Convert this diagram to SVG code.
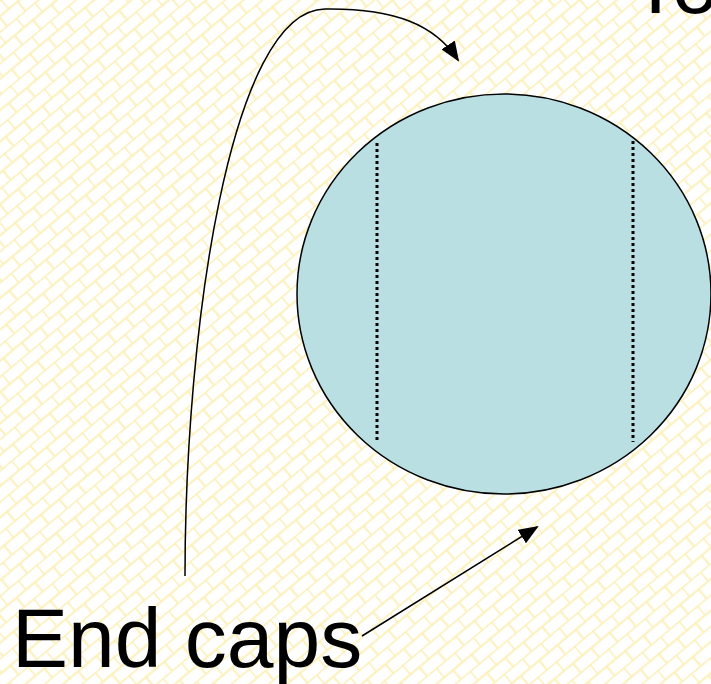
<svg xmlns="http://www.w3.org/2000/svg" width="711" height="684" viewBox="0 0 711 684">
<defs>
<pattern id="brick" width="24" height="24" patternUnits="userSpaceOnUse" patternTransform="rotate(-40)">
<rect width="24" height="24" fill="#ffffff"/>
<path d="M0,0.5 H24 M0,12.5 H24 M0.5,0 V12.5 M12.5,12.5 V24" stroke="#fcf0b8" stroke-width="2" fill="none"/>
</pattern>
<marker id="ah" viewBox="0 0 20 16" refX="18" refY="8" markerWidth="20" markerHeight="16" markerUnits="userSpaceOnUse" orient="auto">
<path d="M0,0 L20,8 L0,16 Z" fill="#000"/>
</marker>
<style>
.lbl{font-family:"Liberation Sans",Arial,sans-serif;font-size:84px;fill:#000}
.dot{stroke:#000;stroke-width:3;stroke-dasharray:3 3;fill:none}
.conn{stroke:#000;stroke-width:1.5;fill:none}
</style>
</defs>
<rect width="711" height="684" fill="url(#brick)"/>
<g id="cylinder">
<ellipse cx="504" cy="294" rx="207" ry="200" fill="#b9dfe2" stroke="#000" stroke-width="1.5"/>
<line class="dot" x1="377" y1="143" x2="377" y2="442"/>
<line class="dot" x1="633" y1="141" x2="633" y2="442"/>
</g>
<g id="label-endcaps"><text class="lbl" x="12" y="667">End caps</text></g>
<g id="label-top"><text class="lbl" x="630" y="13">To</text></g>
<g id="connectors">
<path class="conn" d="M185,576 C185,330 230,10 325,9 C395,8 435,25 458,60" marker-end="url(#ah)"/>
<line class="conn" x1="362" y1="636" x2="537" y2="527" marker-end="url(#ah)"/>
</g>
</svg>
